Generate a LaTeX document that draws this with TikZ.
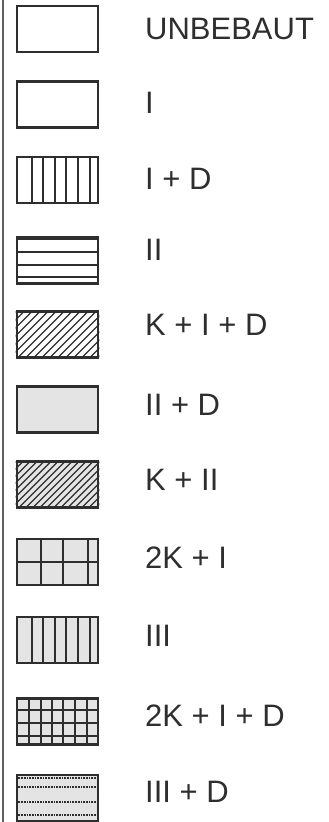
\documentclass[tikz,border=0pt]{standalone}
\usepackage{fontspec}
\setmainfont{Liberation Sans}
\definecolor{ink}{HTML}{2E2E2E}
\definecolor{dots}{HTML}{E4E4E4}

\begin{document}
\begin{tikzpicture}[x=1pt, y=-1pt,
    legbox/.style={draw=ink, line width=2.6pt, minimum width=81pt, minimum height=46pt, inner sep=0pt},
    legtext/.style={anchor=base west, inner sep=0pt, text=ink, font=\fontsize{31}{31}\selectfont},
    fine/.style={draw=ink, line width=1.7pt}]
    \def\bx{57.5}
    \def\tx{145}
    \useasboundingbox (0,0) rectangle (329,822);

    % Left rule
    \draw[gray!75!black, line width=1.4pt] (3,0) -- (3,822);

    % Boxes
    \node[legbox] (unbebaut) at (\bx, 29) {};
    \node[legbox] (eins) at (\bx, 104.5) {};
    \node[legbox] (einsd) at (\bx, 180) {};
    \node[legbox] (zwei) at (\bx, 260.5) {};
    \node[legbox] (keinsd) at (\bx, 334.5) {};
    \node[legbox, fill=dots] (zweid) at (\bx, 409.5) {};
    \node[legbox, fill=dots] (kzwei) at (\bx, 484.5) {};
    \node[legbox, fill=dots] (zkeins) at (\bx, 562) {};
    \node[legbox, fill=dots] (drei) at (\bx, 640) {};
    \node[legbox, fill=dots] (zkeinsd) at (\bx, 721.5) {};
    \node[legbox, fill=dots] (dreid) at (\bx, 798) {};

    % Vertical stripes
    \foreach \x in {32,43,55,66,78,90} {
        \draw[fine] (\x,0 |- einsd.north) -- (\x,0 |- einsd.south);
        \draw[fine] (\x,0 |- drei.north) -- (\x,0 |- drei.south);
    }

    % Horizontal stripes
    \foreach \y in {3,16,29,41} {
        \draw[fine] ([yshift=-\y pt]zwei.north west) -- ([yshift=-\y pt]zwei.north east);
    }
    \foreach \y in {4,13,28,41} {
        \draw[fine, densely dotted] ([yshift=-\y pt]dreid.north west) -- ([yshift=-\y pt]dreid.north east);
    }

    % Hatching
    \begin{scope}
        \clip (keinsd.south west) rectangle (keinsd.north east);
        \foreach \i in {0,...,16}
            \draw[ink, line width=1.1pt] (\i*8-30, 357.5) -- (\i*8+16, 311.5);
    \end{scope}
    \begin{scope}
        \clip (kzwei.south west) rectangle (kzwei.north east);
        \foreach \i in {0,...,18}
            \draw[ink, line width=1.2pt] (\i*7-30, 507.5) -- (\i*7+16, 461.5);
    \end{scope}

    % Grids
    \foreach \x in {41,63,88}
        \draw[ink, line width=2.8pt] (\x,0 |- zkeins.north) -- (\x,0 |- zkeins.south);
    \draw[ink, line width=2.8pt] (zkeins.west) -- (zkeins.east);
    \foreach \x in {29,41,52,63,75,87}
        \draw[fine, line width=2.2pt] (\x,0 |- zkeinsd.north) -- (\x,0 |- zkeinsd.south);
    \foreach \y in {710,723,736}
        \draw[fine, line width=2.2pt] (zkeinsd.west |- 0,\y) -- (zkeinsd.east |- 0,\y);

    % Labels
    \node[legtext] (t1) at (\tx, 39) {UNBEBAUT};
    \node[legtext] (t2) at (\tx, 113) {I};
    \node[legtext] (t3) at (\tx, 189) {I + D};
    \node[legtext] (t4) at (\tx, 260) {II};
    \node[legtext] (t5) at (\tx, 335) {K + I + D};
    \node[legtext] (t6) at (\tx, 415) {II + D};
    \node[legtext] (t7) at (\tx, 490) {K + II};
    \node[legtext] (t8) at (\tx, 568) {2K + I};
    \node[legtext] (t9) at (\tx, 646) {III};
    \node[legtext] (t10) at (\tx, 726) {2K + I + D};
    \node[legtext] (t11) at (\tx, 802) {III + D};
\end{tikzpicture}
\end{document}
